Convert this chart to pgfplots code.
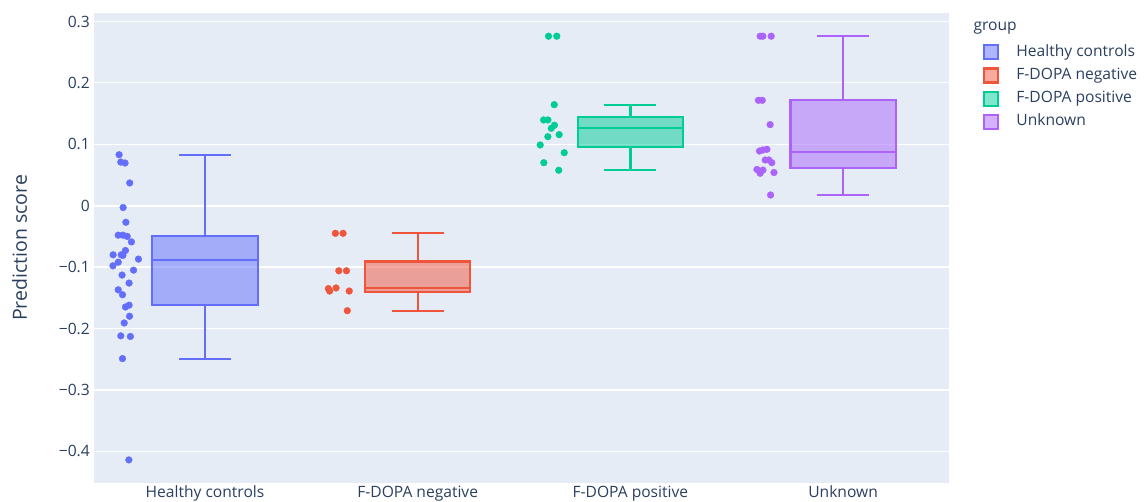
\documentclass[border=0pt]{standalone}
\usepackage{fontspec}
\setmainfont{Open Sans}
\usepackage{pgfplots}
\usepackage{pgfplotstable}
\pgfplotsset{compat=1.18}
\usepgfplotslibrary{statistics}
\definecolor{hcc}{HTML}{636EFA}
\definecolor{negc}{HTML}{EF553B}
\definecolor{posc}{HTML}{00CC96}
\definecolor{unkc}{HTML}{AB63FA}
\definecolor{bgc}{HTML}{E5ECF6}
\definecolor{txt}{HTML}{2A3F5F}

\pgfplotstableread{
x y
-0.404 0.083
-0.396 0.071
-0.376 0.0695
-0.354 0.037
-0.385 -0.003
-0.372 -0.027
-0.408 -0.048
-0.386 -0.048
-0.366 -0.050
-0.346 -0.059
-0.374 -0.073
-0.432 -0.080
-0.394 -0.080
-0.386 -0.081
-0.313 -0.087
-0.408 -0.092
-0.433 -0.098
-0.336 -0.105
-0.390 -0.113
-0.357 -0.126
-0.408 -0.137
-0.388 -0.145
-0.357 -0.162
-0.374 -0.165
-0.355 -0.180
-0.380 -0.191
-0.396 -0.212
-0.351 -0.213
-0.388 -0.249
-0.358 -0.414
}\hcdata

\pgfplotstableread{
x y
0.613 -0.045
0.649 -0.045
0.629 -0.106
0.665 -0.106
0.580 -0.135
0.586 -0.139
0.616 -0.134
0.678 -0.139
0.669 -0.171
}\negdata

\pgfplotstableread{
x y
1.615 0.276
1.654 0.276
1.642 0.1645
1.592 0.1396
1.612 0.1396
1.643 0.131
1.628 0.126
1.665 0.1157
1.612 0.1124
1.576 0.0989
1.689 0.0863
1.593 0.070
1.663 0.0577
}\posdata

\pgfplotstableread{
x y
2.610 0.276
2.623 0.276
2.662 0.276
2.602 0.1716
2.620 0.1716
2.657 0.132
2.607 0.089
2.623 0.0907
2.642 0.0918
2.634 0.0744
2.651 0.0744
2.665 0.070
2.595 0.059
2.610 0.0528
2.623 0.058
2.675 0.054
2.659 0.0174
}\unkdata

\begin{document}
\begin{tikzpicture}
\useasboundingbox (-94pt,-19pt) rectangle (1051pt,483pt);
\begin{axis}[
  name=ax,
  scale only axis, width=855pt, height=470pt,
  xmin=-0.522, xmax=3.498, ymin=-0.4516, ymax=0.3138,
  axis background/.style={fill=bgc},
  axis line style={draw=none},
  major tick length=0pt,
  ymajorgrids, grid style={white, line width=1.2pt},
  xtick={0,1,2,3},
  xticklabels={Healthy controls, F-DOPA negative, F-DOPA positive, Unknown},
  ytick={-0.4,-0.3,-0.2,-0.1,0,0.1,0.2,0.3},
  yticklabels={−0.4,−0.3,−0.2,−0.1,0,0.1,0.2,0.3},
  extra y ticks={0}, extra y tick labels={},
  extra y tick style={grid style={white, line width=2.2pt}},
  tick label style={font=\fontsize{15.6}{18}\selectfont, text=txt},
  yticklabel style={anchor=east, inner sep=0pt, xshift=-4pt},
  xticklabel style={anchor=base, inner sep=0pt, yshift=-15pt},
  ylabel={Prediction score},
  every axis y label/.style={at={([xshift=-67pt]axis description cs:0,0.5)}, rotate=90, anchor=base, font=\fontsize{19.5}{23}\selectfont, text=txt},
  boxplot/draw direction=y,
  legend image code/.code={\draw[#1] (0pt,-7pt) rectangle (14pt,7pt);},
  legend cell align=left,
  legend style={at={(1,1)}, anchor=north west, xshift=34pt, yshift=-31pt,
    draw=none, fill=none, inner sep=0pt, column sep=17pt, row sep=7pt,
    font=\fontsize{15.6}{18}\selectfont, text=txt,
    nodes={inner sep=0pt, text height=11pt, text depth=3pt}},
]
\addlegendimage{draw=hcc, fill=hcc!50, line width=2.2pt}
\addlegendentry{Healthy controls}
\addlegendimage{draw=negc, fill=negc!50, line width=2.2pt}
\addlegendentry{F-DOPA negative}
\addlegendimage{draw=posc, fill=posc!50, line width=2.2pt}
\addlegendentry{F-DOPA positive}
\addlegendimage{draw=unkc, fill=unkc!50, line width=2.2pt}
\addlegendentry{Unknown}

\addplot[forget plot, draw=hcc, fill=hcc, fill opacity=0.5, line width=2.2pt,
  boxplot prepared={draw position=0, lower whisker=-0.250, lower quartile=-0.162,
  median=-0.089, upper quartile=-0.049, upper whisker=0.083, box extend=0.495, whisker extend=0.244}] coordinates {};
\addplot[forget plot, draw=negc, fill=negc, fill opacity=0.5, line width=2.2pt,
  boxplot prepared={draw position=1, lower whisker=-0.171, lower quartile=-0.140,
  median=-0.1346, upper quartile=-0.091, upper whisker=-0.045, box extend=0.495, whisker extend=0.244}] coordinates {};
\addplot[forget plot, draw=posc, fill=posc, fill opacity=0.5, line width=2.2pt,
  boxplot prepared={draw position=2, lower whisker=0.0577, lower quartile=0.0956,
  median=0.126, upper quartile=0.145, upper whisker=0.1645, box extend=0.495, whisker extend=0.244}] coordinates {};
\addplot[forget plot, draw=unkc, fill=unkc, fill opacity=0.5, line width=2.2pt,
  boxplot prepared={draw position=3, lower whisker=0.0174, lower quartile=0.0614,
  median=0.088, upper quartile=0.1716, upper whisker=0.276, box extend=0.495, whisker extend=0.244}] coordinates {};

\addplot[forget plot, only marks, mark=*, mark size=3.4pt, mark options={solid, fill=hcc, draw=hcc, line width=0.3pt}] table[x=x,y=y] {\hcdata};
\addplot[forget plot, only marks, mark=*, mark size=3.4pt, mark options={solid, fill=negc, draw=negc, line width=0.3pt}] table[x=x,y=y] {\negdata};
\addplot[forget plot, only marks, mark=*, mark size=3.4pt, mark options={solid, fill=posc, draw=posc, line width=0.3pt}] table[x=x,y=y] {\posdata};
\addplot[forget plot, only marks, mark=*, mark size=3.4pt, mark options={solid, fill=unkc, draw=unkc, line width=0.3pt}] table[x=x,y=y] {\unkdata};
\end{axis}
\node[anchor=base west, font=\fontsize{15.6}{18}\selectfont, text=txt] at ([xshift=21pt,yshift=-17.7pt]ax.north east) {group};
\end{tikzpicture}
\end{document}
